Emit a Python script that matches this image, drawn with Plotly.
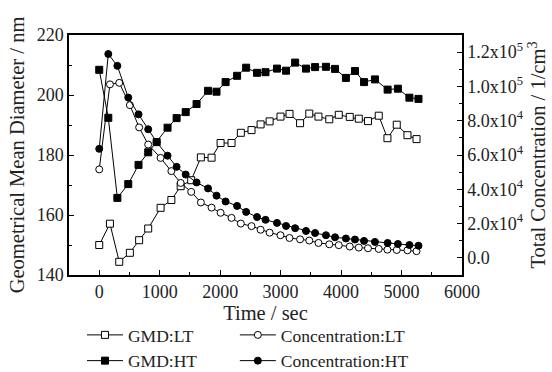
import plotly.graph_objects as go

# Times (sec)
t_lt = [0, 177, 331, 507, 660, 810, 1015, 1193, 1347, 1521, 1681, 1858, 2007, 2188, 2342,
        2519, 2669, 2818, 2998, 3147, 3322, 3474, 3626, 3805, 3962, 4144, 4293, 4445,
        4623, 4767, 4921, 5098, 5248]
t_ht = [0, 150, 300, 480, 650, 810, 950, 1130, 1280, 1430, 1610, 1800, 1940, 2090, 2280,
        2430, 2610, 2750, 2940, 3090, 3240, 3420, 3570, 3750, 3900, 4080, 4230, 4380,
        4560, 4770, 4940, 5130, 5280]

# Geometrical mean diameter (nm)
gmd_lt = [150.0, 157.1, 144.4, 147.4, 151.6, 155.5, 162.4, 165.0, 169.6, 171.6, 179.2,
          179.1, 184.0, 184.0, 187.4, 188.3, 190.2, 191.2, 192.8, 193.7, 190.6, 193.8,
          192.8, 191.9, 193.4, 192.7, 192.1, 191.3, 193.1, 185.6, 190.1, 186.6, 185.3]
gmd_ht = [208.4, 192.4, 165.7, 170.3, 176.7, 180.9, 184.3, 189.1, 192.3, 194.3, 197.0,
          201.4, 201.1, 204.3, 206.4, 209.1, 207.4, 207.6, 208.8, 208.1, 210.8, 208.8,
          209.3, 209.4, 208.7, 205.7, 208.0, 204.3, 205.2, 201.8, 202.1, 199.1, 198.7]

# Total concentration (1/cm3)
conc_lt = [51600, 101200, 102100, 89100, 76100, 66100, 58300, 50600, 43700, 38500, 32300,
           29300, 26300, 23300, 20000, 18500, 16400, 14700, 13200, 11600, 10800, 10100,
           8700, 7900, 7400, 6600, 6000, 5600, 5200, 4800, 4600, 4400, 3900]
conc_ht = [63600, 118900, 112000, 93500, 83700, 75000, 67500, 59600, 53100, 48600, 44000,
           40500, 36300, 32900, 30300, 26800, 23800, 22200, 20400, 18600, 17300, 15700,
           14500, 13200, 12000, 11300, 10700, 9900, 9300, 8700, 8100, 7500, 7100]

x_ticks = [0, 1000, 2000, 3000, 4000, 5000, 6000]
left_ticks = [140, 160, 180, 200, 220]
right_tickvals = [0, 20000, 40000, 60000, 80000, 100000, 120000]
right_ticktext = ["0.0", "2.0x10<sup>4</sup>", "4.0x10<sup>4</sup>", "6.0x10<sup>4</sup>",
                  "8.0x10<sup>4</sup>", "1.0x10<sup>5</sup>", "1.2x10<sup>5</sup>"]

FONT = "'Liberation Serif', 'Times New Roman', serif"
line = dict(color="black", width=1)

fig = go.Figure()
fig.add_trace(go.Scatter(x=t_lt, y=gmd_lt, name="GMD:LT", mode="lines+markers", line=line,
                         legend="legend",
                         marker=dict(symbol="square", size=7, color="white",
                                     line=dict(color="black", width=1))))
fig.add_trace(go.Scatter(x=t_lt, y=conc_lt, name="Concentration:LT", mode="lines+markers",
                         line=line, yaxis="y2", legend="legend2",
                         marker=dict(symbol="circle", size=7, color="white",
                                     line=dict(color="black", width=1))))
fig.add_trace(go.Scatter(x=t_ht, y=gmd_ht, name="GMD:HT", mode="lines+markers", line=line,
                         legend="legend",
                         marker=dict(symbol="square", size=7, color="black",
                                     line=dict(color="black", width=1))))
fig.add_trace(go.Scatter(x=t_ht, y=conc_ht, name="Concentration:HT", mode="lines+markers",
                         line=line, yaxis="y2", legend="legend2",
                         marker=dict(symbol="circle", size=7, color="black",
                                     line=dict(color="black", width=1))))

axis_common = dict(showgrid=False, zeroline=False, showline=True, linecolor="black",
                   linewidth=1.5, ticks="inside", ticklen=5, tickcolor="black",
                   tickwidth=1, tickfont=dict(family=FONT, size=18, color="#222"))
title_font = dict(family=FONT, size=20.5, color="#222")
legend_common = dict(orientation="v", y=-0.175, xanchor="left", yanchor="top",
                     font=dict(family=FONT, size=17.5, color="#222"),
                     bgcolor="rgba(0,0,0,0)", itemwidth=36, tracegroupgap=0,
                     traceorder="normal")

fig.update_layout(
    width=552, height=372,
    margin=dict(l=69, r=90, t=35, b=97, autoexpand=False),
    paper_bgcolor="white", plot_bgcolor="white",
    font=dict(family=FONT, color="#222"),
    xaxis=dict(range=[-500, 6000], tickvals=x_ticks, mirror=True,
               minor=dict(dtick=500, tick0=0, ticks="inside", ticklen=3, tickcolor="black"),
               title=dict(text="Time / sec", font=title_font, standoff=2),
               **axis_common),
    yaxis=dict(range=[140, 220], tickvals=left_ticks,
               minor=dict(dtick=10, tick0=0, ticks="inside", ticklen=3, tickcolor="black"),
               title=dict(text="Geometrical Mean Diameter / nm", font=title_font, standoff=6),
               **axis_common),
    yaxis2=dict(range=[-10000, 130000], overlaying="y", side="right",
                tickvals=right_tickvals, ticktext=right_ticktext,
                minor=dict(dtick=10000, tick0=0, ticks="inside", ticklen=3, tickcolor="black"),
                title=dict(text="Total Concentration / 1/cm<sup>3</sup>", font=title_font,
                           standoff=6),
                **axis_common),
    legend=dict(x=0.033, **legend_common),
    legend2=dict(x=0.422, **legend_common),
    showlegend=True,
)

fig.write_html("out.html")
